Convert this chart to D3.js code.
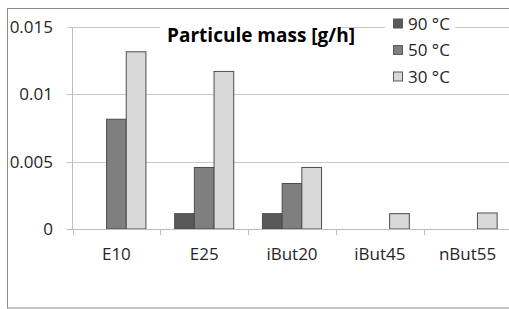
<!DOCTYPE html>
<html>
<head>
<meta charset="utf-8">
<script src="https://cdn.jsdelivr.net/npm/d3@7"></script>
<style>
  body { margin: 0; background: #fff; }
  svg { display: block; font-family: "Open Sans", sans-serif; }
</style>
</head>
<body>
<div class="chart"></div>
<script>
// data
let categories = ['E10', 'E25', 'iBut20', 'iBut45', 'nBut55']
let seriesNames = ['90 °C', '50 °C', '30 °C']
let values90 = [null, 0.00114, 0.00114, null, null]
let values50 = [0.00815, 0.00457, 0.00338, null, null]
let values30 = [0.01316, 0.0117, 0.00457, 0.00114, 0.00119]
let yTicks = [0, 0.005, 0.01, 0.015]
let yTickLabels = ['0', '0.005', '0.01', '0.015']
let seriesColors = ['#595959', '#7f7f7f', '#d9d9d9']

let svgWidth = 509
let svgHeight = 309

let margin = { left: 72.5, top: 27, bottom: 80 }
let plotBottom = svgHeight - margin.bottom
let plotWidth = 87.8 * categories.length

let svg = d3.select('.chart')
    .append('svg')
    .attr('width', svgWidth)
    .attr('height', svgHeight)

// outer border
svg.append('rect')
    .attr('x', 7.5).attr('y', 8.5)
    .attr('width', 520).attr('height', 299.5)
    .attr('fill', '#fff')
    .attr('stroke', '#8a8a8a')

// scales
let x0 = d3.scaleBand()
    .domain(categories)
    .range([margin.left, margin.left + plotWidth])

let x1 = d3.scaleBand()
    .domain(seriesNames)
    .range([0, x0.bandwidth()])
    .paddingOuter(0.73)

let y = d3.scaleLinear()
    .domain([0, 0.015])
    .range([plotBottom, margin.top])

// gridlines
svg.append('g')
    .selectAll('line')
    .data(yTicks.slice(1))
    .join('line')
    .attr('x1', margin.left - 6)
    .attr('x2', svgWidth)
    .attr('y1', d => Math.round(y(d)) + 0.5)
    .attr('y2', d => Math.round(y(d)) + 0.5)
    .attr('stroke', '#c8c8c8')

// y axis labels
svg.append('g')
    .selectAll('text')
    .data(yTicks)
    .join('text')
    .attr('x', 53)
    .attr('y', d => y(d))
    .attr('dy', '0.36em')
    .attr('text-anchor', 'end')
    .attr('font-size', 17)
    .attr('fill', '#262626')
    .text((d, i) => yTickLabels[i])

// bars
let series = [values90, values50, values30]
series.forEach(function (vals, s) {
    let rows = categories.map((c, i) => ({ cat: c, v: vals[i] })).filter(d => d.v != null)
    svg.append('g')
        .selectAll('rect')
        .data(rows)
        .join('rect')
        .attr('x', d => x0(d.cat) + x1(seriesNames[s]))
        .attr('y', d => y(d.v))
        .attr('width', x1.bandwidth())
        .attr('height', d => y(0) - y(d.v))
        .attr('fill', seriesColors[s])
        .attr('stroke', '#4d4d4d')
        .attr('stroke-width', 1)
})

// axes lines
svg.append('line')
    .attr('x1', margin.left).attr('x2', margin.left)
    .attr('y1', margin.top).attr('y2', plotBottom)
    .attr('stroke', '#bdbdbd')
svg.append('line')
    .attr('x1', margin.left - 6).attr('x2', svgWidth)
    .attr('y1', Math.round(plotBottom) + 0.5).attr('y2', Math.round(plotBottom) + 0.5)
    .attr('stroke', '#bdbdbd')

// x ticks at category boundaries
svg.append('g')
    .selectAll('line')
    .data(categories)
    .join('line')
    .attr('x1', d => Math.round(x0(d)) + 0.5)
    .attr('x2', d => Math.round(x0(d)) + 0.5)
    .attr('y1', plotBottom)
    .attr('y2', plotBottom + 6)
    .attr('stroke', '#bdbdbd')

// x labels
svg.append('g')
    .selectAll('text')
    .data(categories)
    .join('text')
    .attr('x', d => x0(d) + x0.bandwidth() / 2)
    .attr('y', 260)
    .attr('text-anchor', 'middle')
    .attr('font-size', 17)
    .attr('fill', '#262626')
    .text(d => d)

// title
svg.append('rect')
    .attr('x', 160).attr('y', 20)
    .attr('width', 180).attr('height', 30)
    .attr('fill', '#fff')
svg.append('text')
    .attr('x', 261)
    .attr('y', 41.7)
    .attr('text-anchor', 'middle')
    .attr('font-size', 19)
    .attr('font-weight', 'bold')
    .attr('fill', '#000')
    .text('Particule mass [g/h]')

// legend
svg.append('rect')
    .attr('x', 385).attr('y', 12)
    .attr('width', 70).attr('height', 76)
    .attr('fill', '#fff')
let legendRows = [23.5, 50, 76.5]
let legend = svg.append('g')
    .selectAll('g')
    .data(seriesNames)
    .join('g')
    .attr('transform', (d, i) => `translate(393, ${legendRows[i]})`)
legend.append('rect')
    .attr('x', 0.5).attr('y', -4.5)
    .attr('width', 9).attr('height', 9)
    .attr('fill', (d, i) => seriesColors[i])
    .attr('stroke', '#595959')
legend.append('text')
    .attr('x', 15)
    .attr('dy', '0.36em')
    .attr('font-size', 17)
    .attr('fill', '#262626')
    .text(d => d)
</script>
</body>
</html>
